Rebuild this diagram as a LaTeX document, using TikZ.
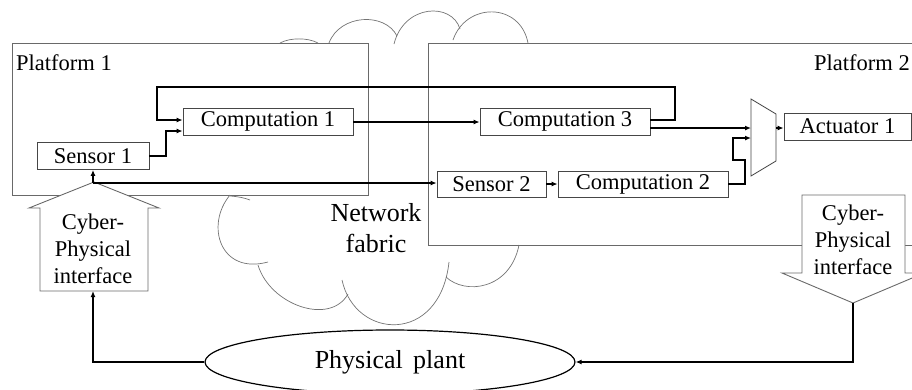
\documentclass[tikz,border=0pt]{standalone}
\usepackage{fontspec}
\setmainfont{Liberation Serif}
\usetikzlibrary{arrows.meta,shapes.geometric}
\definecolor{plgray}{RGB}{105,105,105}
\definecolor{boxgray}{RGB}{70,70,70}
\definecolor{cloudgray}{RGB}{115,115,115}
\begin{document}
\begin{tikzpicture}[x=1pt,y=1pt,
  platform/.style={draw=plgray, line width=0.9pt, fill=white},
  blk/.style={draw=boxgray, line width=0.8pt, fill=white, minimum height=27pt, inner sep=0pt, font=\fontsize{22.5}{27}\selectfont},
  conn/.style={draw=black, line width=1.3pt, -{Latex[length=6pt,width=5pt]}},
  cloudline/.style={draw=cloudgray, line width=0.7pt},
  bigarrow/.style={draw=plgray, line width=0.9pt, fill=white},
  lbl/.style={font=\fontsize{22.5}{27}\selectfont, inner sep=0pt},
  biglbl/.style={font=\fontsize{26}{31}\selectfont, inner sep=0pt, align=center},
  cplbl/.style={font=\fontsize{22.5}{27}\selectfont, inner sep=0pt, align=center}]
\useasboundingbox (0,0) rectangle (912,-389);
\clip (0,0) rectangle (912,-389);

% platforms
\draw[platform] (12,-43) rectangle (368,-195);
\draw[platform] (428,-43) rectangle (940,-245);

% network cloud (visible lobes)
\draw[cloudline] (280,-43) .. controls (290,-37.5) and (308,-37.5) .. (318,-43);
\draw[cloudline] (329,-43) .. controls (340,-14) and (385,-12) .. (397,-36);
\draw[cloudline] (394,-44) .. controls (404,-4) and (452,-2) .. (460,-29);
\draw[cloudline] (453,-40) .. controls (466,-2) and (520,-2) .. (528,-43);
\draw[cloudline] (230,-196) .. controls (238,-196.5) and (245,-198) .. (250,-200);
\draw[cloudline] (230,-195) .. controls (205,-225) and (220,-275) .. (268,-262);
\draw[cloudline] (258,-265) .. controls (270,-305) and (330,-326) .. (348,-294);
\draw[cloudline] (342,-280) .. controls (355,-340) and (440,-345) .. (449,-262);
\draw[cloudline] (446,-277) .. controls (465,-295) and (510,-290) .. (519,-245);

% labels
\node[lbl, anchor=west] (p1) at (16,-63) {Platform 1};
\node[lbl, anchor=east] (p2) at (910,-63) {Platform 2};
\node[biglbl] (net) at (376,-228) {Network\\fabric};

% blocks
\node[blk, minimum width=112pt] (s1) at (93,-156) {Sensor 1};
\node[blk, minimum width=170pt] (c1) at (268,-121.5) {Computation 1};
\node[blk, minimum width=170pt] (c3) at (565,-121.5) {Computation 3};
\node[blk, minimum width=109pt, minimum height=26pt] (s2) at (491.5,-184) {Sensor 2};
\node[blk, minimum width=170pt, minimum height=26pt] (c2) at (643,-184) {Computation 2};
\node[blk, minimum width=127pt] (a1) at (847.5,-126.5) {Actuator 1};

% multiplexer
\draw[draw=boxgray, line width=0.8pt, fill=white] (751,-99) -- (776,-114) -- (776,-161) -- (751,-176) -- cycle;
\coordinate (mx1) at (751,-128);
\coordinate (mx2) at (751,-138);
\coordinate (mxo) at (776,-128);

% cyber-physical interfaces
\draw[bigarrow] (40,-291) -- (40,-208) -- (29,-208) -- (94,-182) -- (159,-208) -- (148,-208) -- (148,-291) -- cycle;
\coordinate (cp1tip) at (93,-183);
\coordinate (cp1bot) at (93,-291);
\node[cplbl] (cp1) at (93,-249) {Cyber-\\Physical\\interface};
\draw[bigarrow] (802,-195) -- (802,-273) -- (782,-273) -- (853,-303) -- (924,-273) -- (905,-273) -- (905,-195) -- cycle;
\coordinate (cp2tip) at (853,-303);
\node[cplbl] (cp2) at (853,-239.5) {Cyber-\\Physical\\interface};

% physical plant
\node[draw=black, line width=1.2pt, ellipse, minimum width=370pt, minimum height=64pt, inner sep=0pt, font=\fontsize{26}{31}\selectfont] (pp) at (390,-362) {Physical\hspace{0.4em}plant};

% connectors
\draw[conn] (s1.east) -- (166,-156) -- (166,-131) -- ([yshift=-9.5pt]c1.west);
\draw[conn] ([yshift=1.5pt]c3.east) -- (675,-120) -- (675,-87) -- (157,-87) -- (157,-120) -- ([yshift=1.5pt]c1.west);
\draw[conn] ([yshift=-0.5pt]c1.east) -- ([yshift=-0.5pt]c3.west);
\draw[conn] ([yshift=-6.5pt]c3.east) -- (mx1);
\draw[conn] (c2.east) -- (745,-184) -- (745,-160) -- (733,-160) -- (733,-138) -- (mx2);
\draw[conn] (mxo) -- (a1.west |- mxo);
\draw[conn] (s2.east) -- (c2.west);
\draw[conn] (cp1tip) -- (s1.south -| cp1tip);
\draw[conn] (cp1tip) -- (cp1tip -| s2.west);
\draw[conn] (pp.west) -| (cp1bot);
\draw[conn] (cp2tip) |- (pp.east);
\end{tikzpicture}
\end{document}
